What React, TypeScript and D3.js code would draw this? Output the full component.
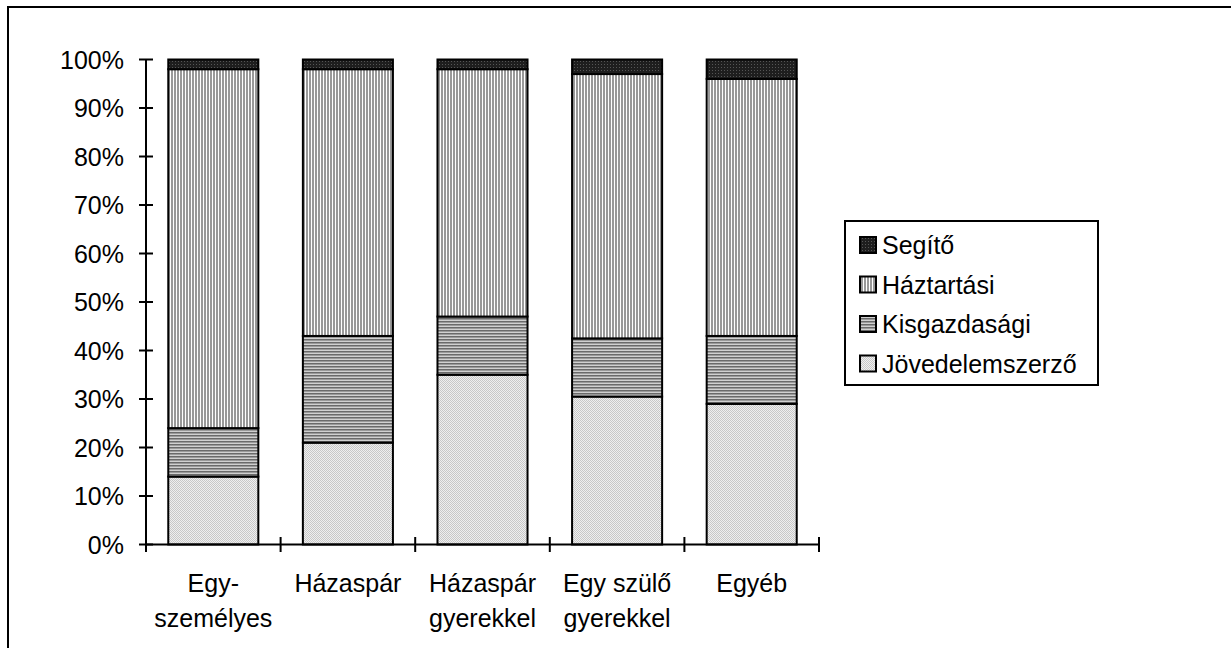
import React from "react";
import * as d3 from "d3";

const categories = ["Egy-\nszemélyes", "Házaspár", "Házaspár\ngyerekkel", "Egy szülő\ngyerekkel", "Egyéb"];
const seriesKeys = ["Jövedelemszerző", "Kisgazdasági", "Háztartási", "Segítő"];
const jovedelemszerzo = [14, 21, 35, 30.5, 29];
const kisgazdasagi = [10, 22, 12, 12, 14];
const haztartasi = [74, 55, 51, 54.5, 53];
const segito = [2, 2, 2, 3, 4];
const yTicks = [0, 10, 20, 30, 40, 50, 60, 70, 80, 90, 100];
const legendOrder = ["Segítő", "Háztartási", "Kisgazdasági", "Jövedelemszerző"];

const patternId: Record<string, string> = {
  "Jövedelemszerző": "pJov",
  "Kisgazdasági": "pKis",
  "Háztartási": "pHaz",
  "Segítő": "pSeg",
};

export default function App() {
  const W = 1231, H = 648;
  const FONT = "'Liberation Sans', Arial, sans-serif";
  const FS = 25;

  const rows = categories.map((c, i) => ({
    cat: c,
    "Jövedelemszerző": jovedelemszerzo[i],
    "Kisgazdasági": kisgazdasagi[i],
    "Háztartási": haztartasi[i],
    "Segítő": segito[i],
  }));
  const stacked = d3.stack<any>().keys(seriesKeys)(rows);

  const x = d3.scaleBand<string>().domain(categories).range([146, 819]).paddingInner(0.331).paddingOuter(0.1655);
  const y = d3.scaleLinear().domain([0, 100]).range([544.5, 59.5]);
  const step = x.step();
  const boundaries = d3.range(categories.length + 1).map((i) => 146 + i * step);

  return (
    <svg width={W} height={H} style={{ position: "absolute", left: 0, top: 0, display: "block" }} fontFamily={FONT}>
      <defs>
        <pattern id="pHaz" patternUnits="userSpaceOnUse" width={3} height={3}>
          <rect width={3} height={3} fill="#fff" />
          <rect width={2} height={3} fill="#999" />
        </pattern>
        <pattern id="pKis" patternUnits="userSpaceOnUse" width={3} height={3}>
          <rect width={3} height={1} y={0} fill="#6a6a6a" />
          <rect width={3} height={1} y={1} fill="#9a9a9a" />
          <rect width={3} height={1} y={2} fill="#d0d0d0" />
        </pattern>
        <pattern id="pJov" patternUnits="userSpaceOnUse" width={2} height={2}>
          <rect width={2} height={2} fill="#efefef" />
          <rect x={0} y={0} width={1} height={1} fill="#c8c8c8" />
          <rect x={1} y={1} width={1} height={1} fill="#c8c8c8" />
        </pattern>
        <pattern id="pSeg" patternUnits="userSpaceOnUse" width={3} height={3}>
          <rect width={3} height={3} fill="#1e1e1e" />
          <rect x={1} y={1} width={1} height={1} fill="#555" />
        </pattern>
      </defs>

      <rect x={8} y={7} width={1400} height={800} fill="#fff" stroke="#000" strokeWidth={2} />

      {/* bars */}
      {stacked.map((s) => (
        <g key={s.key}>
          {s.map((d, i) => (
            <rect
              key={i}
              x={x(categories[i])}
              y={y(d[1])}
              width={x.bandwidth()}
              height={y(d[0]) - y(d[1])}
              fill={`url(#${patternId[s.key]})`}
              stroke="#000"
              strokeWidth={2}
            />
          ))}
        </g>
      ))}

      {/* y axis */}
      <line x1={146} x2={146} y1={y(100)} y2={y(0)} stroke="#000" strokeWidth={2} />
      {yTicks.map((t) => (
        <g key={t}>
          <line x1={139} x2={153} y1={y(t)} y2={y(t)} stroke="#000" strokeWidth={2} />
          <text x={124} y={y(t) + 9} textAnchor="end" fontSize={FS} fill="#000">{`${t}%`}</text>
        </g>
      ))}

      {/* x axis */}
      <line x1={146} x2={819} y1={y(0)} y2={y(0)} stroke="#000" strokeWidth={2} />
      {boundaries.map((b, i) => (
        <line key={i} x1={b} x2={b} y1={537} y2={552} stroke="#000" strokeWidth={2} />
      ))}
      {categories.map((c) => (
        <text key={c} textAnchor="middle" fontSize={FS} fill="#000">
          {c.split("\n").map((ln, j) => (
            <tspan key={j} x={(x(c) as number) + x.bandwidth() / 2} y={592 + j * 35}>{ln}</tspan>
          ))}
        </text>
      ))}

      {/* legend */}
      <rect x={845} y={221} width={253} height={164} fill="#fff" stroke="#000" strokeWidth={2} />
      {legendOrder.map((k, i) => {
        const cy = 245 + i * 39.5;
        return (
          <g key={k}>
            <rect x={860} y={cy - 8} width={16} height={16} fill={`url(#${patternId[k]})`} stroke="#000" strokeWidth={2} />
            <text x={882} y={cy + 9} fontSize={FS} fill="#000">{k}</text>
          </g>
        );
      })}
    </svg>
  );
}
